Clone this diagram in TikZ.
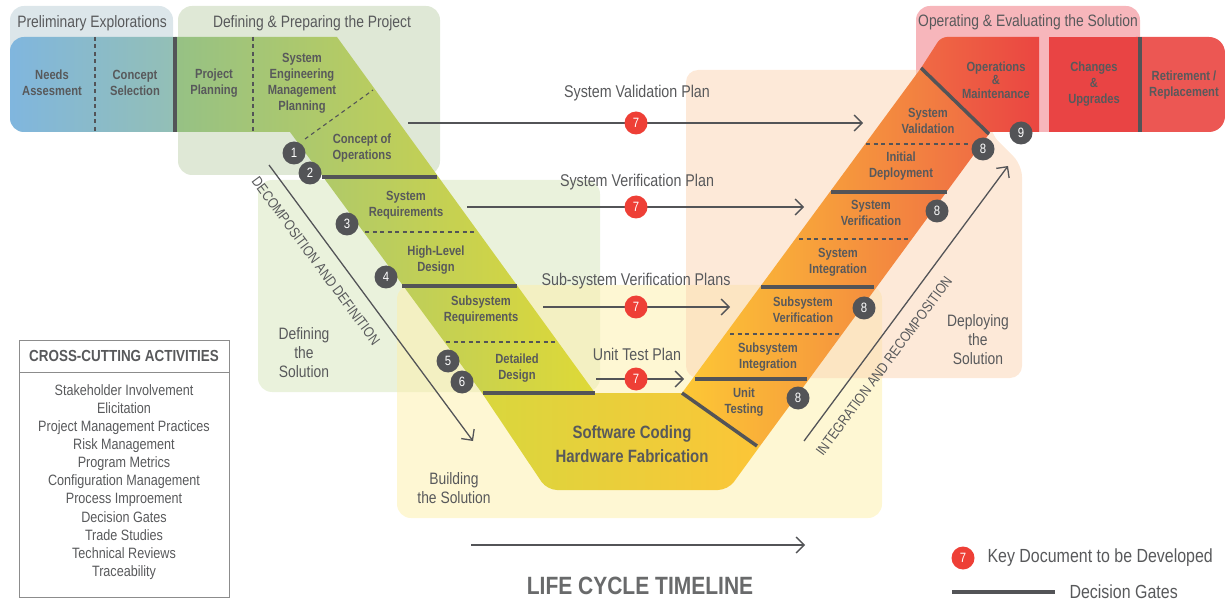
\documentclass[tikz,border=0pt]{standalone}
\usepackage{fontspec}
\setmainfont{Liberation Sans}[FakeStretch=0.84]
\usetikzlibrary{arrows.meta}

\definecolor{ink}{HTML}{58595B}
\definecolor{gateink}{HTML}{535457}
\definecolor{docred}{HTML}{EE3F36}
\definecolor{prelimbg}{HTML}{DCE6EA}
\definecolor{prepbg}{HTML}{DFE8D6}
\definecolor{operbg}{HTML}{F7B6BB}
\definecolor{definebg}{HTML}{D9E8C0}
\definecolor{buildbg}{HTML}{FDEFA8}
\definecolor{deploybg}{HTML}{FBD3B1}
\definecolor{blueL}{HTML}{80B6DE}
\definecolor{blueR}{HTML}{95C0B2}
\definecolor{greenL}{HTML}{96C185}
\definecolor{greenM}{HTML}{B3CA57}
\definecolor{greenR}{HTML}{DFD936}
\definecolor{hexL}{HTML}{D9D73D}
\definecolor{hexM}{HTML}{FDE02B}
\definecolor{hexR}{HTML}{FCC537}
\definecolor{armL}{HTML}{FDC835}
\definecolor{armM}{HTML}{F8A83F}
\definecolor{armR}{HTML}{EF6B44}
\definecolor{opsL}{HTML}{F06A44}
\definecolor{opsR}{HTML}{EA4641}
\definecolor{chgred}{HTML}{E94444}
\definecolor{retired}{HTML}{EC5753}
\definecolor{boxline}{HTML}{8C8C8C}

\tikzset{
  phase/.style={text=ink,font=\fontsize{16.5}{19}\selectfont,align=center},
  plan/.style={text=ink,font=\fontsize{17}{19}\selectfont},
  stage/.style={text=ink,font=\bfseries\fontsize{13.3}{16}\selectfont,align=center},
  gate/.style={draw=gateink,line width=3.5pt},
  subgate/.style={draw=gateink,line width=1.1pt,dash pattern=on 4pt off 3.5pt},
  gatenum/.style={circle,fill=gateink,text=white,minimum size=23pt,inner sep=0pt,font=\fontsize{13.5}{13.5}\selectfont},
  docnum/.style={gatenum,fill=docred},
  flow/.style={draw=gateink,line width=1.4pt,-{Straight Barb[length=8pt,width=16pt]}},
}

\begin{document}
\begin{tikzpicture}[x=1pt,y=-1pt]
  \useasboundingbox (0,0) rectangle (1225,601);
  %% phase backgrounds
  \fill[prelimbg,rounded corners=14pt] (10,6) rectangle (173,132);
  \fill[prepbg,rounded corners=14pt] (178,6) rectangle (440,175);
  \fill[operbg,rounded corners=14pt] (916,6) rectangle (1140,132);
  \fill[definebg,fill opacity=0.55,rounded corners=14pt] (258,180) rectangle (600,392);
  \fill[buildbg,fill opacity=0.5,rounded corners=14pt] (397,285) rectangle (882,518);
  \fill[deploybg,fill opacity=0.5,rounded corners=12pt] (686,70) -- (990,70) -- (990,133) -- (1022,165) -- (1022,378) -- (686,378) -- cycle;
  \node[phase] (prelimlbl) at (92,23) {Preliminary Explorations};
  \node[phase] (preplbl) at (312,23) {Defining \& Preparing the Project};
  \node[phase] (operlbl) at (1028,22) {Operating \& Evaluating the Solution};
  \node[phase] (definelbl) at (304,353) {Defining\\the\\Solution};
  \node[phase] (buildlbl) at (454,488) {Building\\the Solution};
  \node[phase] (deploylbl) at (978,340) {Deploying\\the\\Solution};

  %% the V
  \shade[left color=blueL,right color=blueR,rounded corners=14pt] (10,37) rectangle (190,132);
  \shade[left color=greenL,middle color=greenM,right color=greenR] (175,37) -- (337,37) -- (595,393) -- (482,393) -- (290,132) -- (175,132) -- cycle;
  \shade[left color=hexL,middle color=hexM,right color=hexR] (482,393) -- (682,393) -- (760,446) [rounded corners=10pt] -- (728,490) -- (547,490) [sharp corners] -- cycle;
  \shade[left color=armL,middle color=armM,right color=armR] (682,393) -- (921,68) -- (989,134) -- (760,446) -- cycle;
  \shade[left color=opsL,right color=opsR] (921,68) [rounded corners=6pt] -- (941,37) [sharp corners] -- (1039,37) -- (1039,132) -- (989,132) -- cycle;
  \fill[retired,rounded corners=16pt] (1120,37) rectangle (1225,132);
  \fill[chgred] (1049,37) rectangle (1140,132);

  %% decision gates
  \draw[gate] (175,37) -- (175,132);
  \draw[gate] (322,177) -- (437,177);
  \draw[gate] (402,286) -- (517,286);
  \draw[gate] (483,393) -- (595,393);
  \draw[gate] (682,393) -- (757,446);
  \draw[gate] (695,379) -- (807,379);
  \draw[gate] (761,287) -- (874,287);
  \draw[gate] (831,192) -- (947,192);
  \draw[gate] (921,68) -- (989,134);
  \draw[gate] (1140,37) -- (1140,132);
  %% sub-steps
  \draw[subgate] (95,37) -- (95,132);
  \draw[subgate] (253,37) -- (253,132);
  \draw[subgate] (305,139) -- (373,90);
  \draw[subgate] (365,232) -- (475,232);
  \draw[subgate] (446,342) -- (556,342);
  \draw[subgate] (730,334) -- (840,334);
  \draw[subgate] (799,239) -- (910,239);
  \draw[subgate] (866,144) -- (970,144);

  %% stages
  \node[stage] (needs) at (52,83) {Needs\\Assesment};
  \node[stage] (concsel) at (135,83) {Concept\\Selection};
  \node[stage] (projplan) at (214,83) {Project\\Planning};
  \node[stage] (semp) at (302,83) {System\\Engineering\\Management\\Planning};
  \node[stage] (conops) at (362,148) {Concept of\\Operations};
  \node[stage] (sysreq) at (406,205) {System\\Requirements};
  \node[stage] (hld) at (436,260) {High-Level\\Design};
  \node[stage] (subreq) at (481,310) {Subsystem\\Requirements};
  \node[stage] (detdes) at (517,368) {Detailed\\Design};
  \node[text=ink,font=\bfseries\fontsize{17.8}{24}\selectfont,align=center] (coding) at (632,444) {Software Coding\\Hardware Fabrication};
  \node[stage] (unittest) at (744,402) {Unit\\Testing};
  \node[stage] (subint) at (768,357) {Subsystem\\Integration};
  \node[stage] (subver) at (803,310) {Subsystem\\Verification};
  \node[stage] (sysint) at (838,262) {System\\Integration};
  \node[stage] (sysver) at (871,213) {System\\Verification};
  \node[stage] (initdep) at (901,166) {Initial\\Deployment};
  \node[stage] (sysval) at (928,121) {System\\Validation};
  \node[stage,font=\bfseries\fontsize{13.3}{13.5}\selectfont] (opsmaint) at (996,80) {Operations\\\&\\Maintenance};
  \node[stage] (changes) at (1094,84) {Changes\\\&\\Upgrades};
  \node[stage] (retire) at (1184,85) {Retirement /\\Replacement};

  %% gate numbers
  \node[gatenum] (g1) at (294,153) {1};
  \node[gatenum] (g2) at (310,173) {2};
  \node[gatenum] (g3) at (347,224) {3};
  \node[gatenum] (g4) at (386,277) {4};
  \node[gatenum] (g5) at (448,361) {5};
  \node[gatenum] (g6) at (462,382) {6};
  \node[gatenum] (g8a) at (798,398) {8};
  \node[gatenum] (g8b) at (864,308) {8};
  \node[gatenum] (g8c) at (937,211) {8};
  \node[gatenum] (g8d) at (983,149) {8};
  \node[gatenum] (g9) at (1021,133) {9};

  %% plans
  \coordinate (valS) at (408,123); \coordinate (valE) at (863,123);
  \coordinate (verS) at (467,207); \coordinate (verE) at (804,207);
  \coordinate (subS) at (543,307); \coordinate (subE) at (730,307);
  \coordinate (utS) at (596,379); \coordinate (utE) at (684,379);
  \draw[flow] (valS) -- (valE);
  \draw[flow] (verS) -- (verE);
  \draw[flow] (subS) -- (subE);
  \draw[flow] (utS) -- (utE);
  \node[docnum] (val7) at (636,123) {7};
  \node[docnum] (ver7) at (636,207) {7};
  \node[docnum] (sub7) at (636,307) {7};
  \node[docnum] (ut7) at (636,379) {7};
  \node[plan] (valplan) at (637,93) {System Validation Plan};
  \node[plan] (verplan) at (637,182) {System Verification Plan};
  \node[plan] (subplan) at (636,281) {Sub-system Verification Plans};
  \node[plan] (utplan) at (637,354) {Unit Test Plan};

  %% decomposition / integration
  \coordinate (decS) at (269,165); \coordinate (decE) at (473,441);
  \coordinate (intS) at (804,441); \coordinate (intE) at (1008,166);
  \draw[flow,line width=1.3pt] (decS) -- (decE);
  \draw[flow,line width=1.3pt] (intS) -- (intE);
  \node[text=ink,font=\fontsize{14.5}{16}\selectfont,rotate=-53.5] (declbl) at (316,261) {DECOMPOSITION AND DEFINITION};
  \node[text=ink,font=\fontsize{14.5}{16}\selectfont,rotate=53.5] (intlbl) at (884,366) {INTEGRATION AND RECOMPOSITION};

  %% cross-cutting activities
  \draw[boxline,line width=0.9pt] (19,340) rectangle (229,597);
  \draw[boxline,line width=0.9pt] (19,372) -- (229,372);
  \node[text=ink,font=\bfseries\fontsize{16}{18}\selectfont] (cchead) at (124,356) {CROSS-CUTTING ACTIVITIES};
  \node[text=ink,font=\fontsize{15}{18.1}\selectfont,align=center] (cclist) at (124,482) {Stakeholder Involvement\\Elicitation\\Project Management Practices\\Risk Management\\Program Metrics\\Configuration Management\\Process Improement\\Decision Gates\\Trade Studies\\Technical Reviews\\Traceability};

  %% timeline
  \coordinate (tlS) at (471,545); \coordinate (tlE) at (805,545);
  \draw[flow,line width=1.3pt] (tlS) -- (tlE);
  \node[text=ink!90,font=\bfseries\fontsize{25}{28}\selectfont] (timeline) at (640,586) {LIFE CYCLE TIMELINE};

  %% legend
  \node[docnum] (key7) at (963,558) {7};
  \node[anchor=west,text=ink,font=\fontsize{19}{21}\selectfont] (keytxt) at (984,558) {Key Document to be Developed};
  \coordinate (keyS) at (952,592); \coordinate (keyE) at (1055,592);
  \draw[gate] (keyS) -- (keyE);
  \node[anchor=west,text=ink,font=\fontsize{19}{21}\selectfont] (gatetxt) at (1066,592) {Decision Gates};
\end{tikzpicture}
\end{document}
